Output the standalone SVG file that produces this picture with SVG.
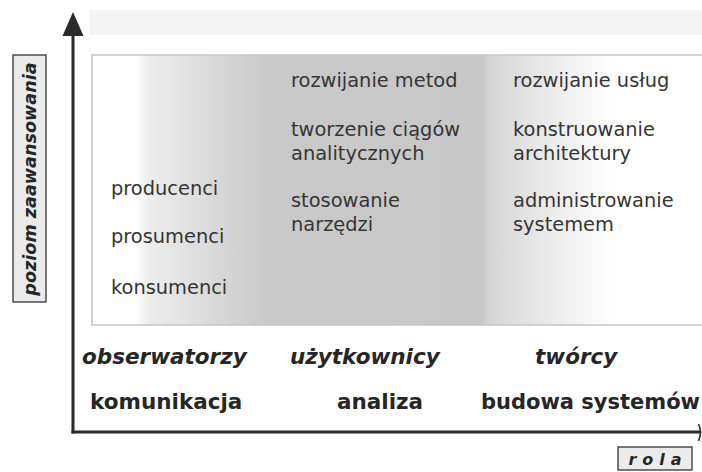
<svg xmlns="http://www.w3.org/2000/svg" width="702" height="472" viewBox="0 0 702 472">
  <style>
    .t { font-family: "DejaVu Sans", Verdana, sans-serif; font-size: 19.4px; fill: #353535; }
    .b { font-family: "DejaVu Sans", Verdana, sans-serif; font-size: 21.5px; font-weight: bold; fill: #262626; }
    .bi { font-family: "DejaVu Sans", Verdana, sans-serif; font-weight: bold; font-style: italic; fill: #262626; }
    .axis { stroke: #2b2b2b; stroke-width: 3; fill: none; }
    .head { fill: #2b2b2b; }
    .lab { fill: #ebebeb; stroke: #333; stroke-width: 1.3; }
  </style>
  <defs>
    <linearGradient id="bg" gradientUnits="userSpaceOnUse" x1="92" y1="0" x2="702" y2="0">
      <stop offset="0" stop-color="#ffffff"/>
      <stop offset="0.07" stop-color="#ffffff"/>
      <stop offset="0.093" stop-color="#ededed"/>
      <stop offset="0.287" stop-color="#c9c9c9"/>
      <stop offset="0.641" stop-color="#c8c8c8"/>
      <stop offset="0.652" stop-color="#d6d6d6"/>
      <stop offset="0.77" stop-color="#efefef"/>
      <stop offset="0.86" stop-color="#ffffff"/>
      <stop offset="1" stop-color="#ffffff"/>
    </linearGradient>
  </defs>

  <rect id="top-band" x="89" y="10" width="620" height="25" fill="#f4f4f4"/>

  <g id="panel">
    <rect x="92" y="55" width="620" height="270" fill="url(#bg)" stroke="#c6c6c6" stroke-width="1.5"/>
  </g>

  <g id="col-obserwatorzy">
    <text class="t" x="111" y="195">producenci</text>
    <text class="t" x="111" y="243">prosumenci</text>
    <text class="t" x="111" y="294">konsumenci</text>
  </g>

  <g id="col-uzytkownicy">
    <text class="t" x="291" y="87">rozwijanie metod</text>
    <text class="t" x="291" y="136">tworzenie ciągów</text>
    <text class="t" x="291" y="160">analitycznych</text>
    <text class="t" x="291" y="207">stosowanie</text>
    <text class="t" x="291" y="231">narzędzi</text>
  </g>

  <g id="col-tworcy">
    <text class="t" x="513" y="87">rozwijanie usług</text>
    <text class="t" x="513" y="136">konstruowanie</text>
    <text class="t" x="513" y="160">architektury</text>
    <text class="t" x="513" y="207">administrowanie</text>
    <text class="t" x="513" y="231">systemem</text>
  </g>

  <g id="roles">
    <text class="bi" font-size="21.5" x="82" y="364">obserwatorzy</text>
    <text class="bi" font-size="21.5" x="290" y="364">użytkownicy</text>
    <text class="bi" font-size="21.5" x="535" y="364">twórcy</text>
  </g>

  <g id="areas">
    <text class="b" x="90" y="409">komunikacja</text>
    <text class="b" x="337" y="409">analiza</text>
    <text class="b" x="481" y="409" style="font-size:21px">budowa systemów</text>
  </g>

  <g id="connectors">
    <line class="axis" x1="73" y1="34" x2="73" y2="433.5"/>
    <line class="axis" x1="71.5" y1="432" x2="700" y2="432"/>
    <polygon class="head" points="73,12 83.5,36 62.5,36"/>
    <path d="M698.5,424 Q702.5,432 698.5,441" stroke="#2b2b2b" stroke-width="1.6" fill="none"/>
  </g>

  <g id="y-label">
    <rect class="lab" x="13" y="55" width="33" height="247"/>
    <text class="bi" font-size="17.6" transform="translate(35.5,179) rotate(-90)" text-anchor="middle">poziom zaawansowania</text>
  </g>

  <g id="x-label">
    <rect class="lab" x="618" y="447" width="74" height="23"/>
    <text class="bi" font-size="16" letter-spacing="6" x="658" y="465" text-anchor="middle">rola</text>
  </g>
</svg>
